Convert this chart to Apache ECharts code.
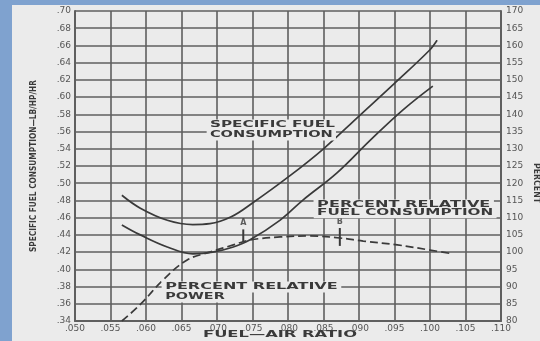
<!DOCTYPE html>
<html><head><meta charset="utf-8">
<script src="https://cdn.jsdelivr.net/npm/echarts@6/dist/echarts.min.js"></script>
<style>
html,body{margin:0;padding:0;background:#7fa2cf;width:540px;height:341px;overflow:hidden}
#chart{position:absolute;left:12px;top:5px;width:528px;height:336px;filter:blur(0.5px)}
</style></head><body><div id="chart"></div>
<script>
// ---- tick labels ----
const xTickLabels = ['.050','.055','.060','.065','.070','.075','.080','.085','.090','.095','.100','.105','.110'];
const leftTickLabels = ['.34','.36','.38','.40','.42','.44','.46','.48','.50','.52','.54','.56','.58','.60','.62','.64','.66','.68','.70'];
const rightTickLabels = ['80','85','90','95','100','105','110','115','120','125','130','135','140','145','150','155','160','165','170'];

// ---- series data ----
const sfcX = [0.0566,0.0592,0.0630,0.0666,0.0690,0.0720,0.0750,0.0800,0.0850,0.0900,0.0950,0.1000,0.1010];
const sfcY = [0.486,0.471,0.457,0.452,0.453,0.461,0.477,0.507,0.540,0.578,0.616,0.655,0.666];

const relFuelX = [0.0566,0.0592,0.0630,0.0666,0.0694,0.0723,0.0746,0.0789,0.0821,0.0869,0.0916,0.0962,0.1004];
const relFuelY = [107.9,105.0,101.5,99.5,100.0,101.5,103.5,109.3,115.1,123.0,132.5,141.3,148.2];

const relPowerX = [0.0566,0.0592,0.0624,0.0658,0.0690,0.0723,0.0746,0.0789,0.0831,0.0873,0.0906,0.0954,0.1000,0.1032];
const relPowerY = [80.0,84.8,91.9,97.7,100.0,102.1,103.5,104.4,104.7,104.1,103.2,102.1,100.6,99.5];

const markerNames = ['A','B'];
const markerX = [0.0737,0.0873];
const markerLetterY = [108.6,108.8];
const markerTop = [106.6,107.0];
const markerBottom = [102.9,101.8];

// ---- annotation text (data-space anchors) ----
const noteTexts = ['SPECIFIC FUEL','CONSUMPTION','PERCENT RELATIVE','FUEL CONSUMPTION','PERCENT RELATIVE','POWER'];
const noteAxis  = [0,0,1,1,1,1];
const noteFrom  = [0.0690,0.0690,0.0841,0.0841,0.0627,0.0627];
const noteTo    = [0.0866,0.0863,0.1085,0.1089,0.0870,0.0711];
const noteY     = [0.5676,0.556,113.7,111.4,89.9,87.0];

const PAPER = '#ebebeb';
const INK = '#3a3a3a';
const GRID = '#5f5f5f';

const zip = (xs, ys) => xs.map((x,i)=>[x, ys[i]]);

const chart = echarts.init(document.getElementById('chart'), null, {renderer:'canvas'});

const markerSeries = markerNames.map((n,i)=>({
  type:'line', yAxisIndex:1, showSymbol:false, silent:true,
  lineStyle:{color:INK, width:2},
  data:[[markerX[i], markerTop[i]],[markerX[i], markerBottom[i]]]
}));

const option = {
  backgroundColor: PAPER,
  animation:false,
  grid:{left:63, right:39, top:6, bottom:20},
  xAxis:{
    type:'value', min:0.05, max:0.11, interval:0.005,
    axisLine:{show:true, lineStyle:{color:GRID, width:2}},
    axisTick:{show:false},
    axisLabel:{color:'#555', fontSize:9, margin:3, fontFamily:'DejaVu Sans',
      formatter:v=>xTickLabels[Math.round((v-0.05)/0.005)] || ''},
    splitLine:{show:true, lineStyle:{color:GRID, width:1.6}}
  },
  yAxis:[{
    type:'value', position:'left', min:0.34, max:0.70, interval:0.02,
    axisLine:{show:true, lineStyle:{color:GRID, width:2}},
    axisTick:{show:false},
    axisLabel:{color:'#555', fontSize:9, margin:4, fontFamily:'DejaVu Sans',
      formatter:v=>leftTickLabels[Math.round((v-0.34)/0.02)] || ''},
    splitLine:{show:true, lineStyle:{color:GRID, width:1.6}}
  },{
    type:'value', position:'right', min:80, max:170, interval:5,
    axisLine:{show:true, lineStyle:{color:GRID, width:2}},
    axisTick:{show:false},
    axisLabel:{color:'#555', fontSize:9, margin:5, fontFamily:'DejaVu Sans',
      formatter:v=>rightTickLabels[Math.round((v-80)/5)] || ''},
    splitLine:{show:false}
  }],
  series:[
    {name:'Specific fuel consumption', type:'line', yAxisIndex:0, smooth:0.4, showSymbol:false,
      lineStyle:{color:INK, width:1.7}, data:zip(sfcX, sfcY)},
    {name:'Percent relative fuel consumption', type:'line', yAxisIndex:1, smooth:0.4, showSymbol:false,
      lineStyle:{color:INK, width:1.7}, data:zip(relFuelX, relFuelY)},
    {name:'Percent relative power', type:'line', yAxisIndex:1, smooth:0.4, showSymbol:false,
      lineStyle:{color:INK, width:1.7, type:[8,4]}, data:zip(relPowerX, relPowerY)},
    ...markerSeries,
    {type:'scatter', yAxisIndex:1, symbolSize:0, silent:true,
      label:{show:true, position:'inside', formatter:p=>p.name, color:INK, fontSize:8, fontWeight:'bold', fontFamily:'DejaVu Sans'},
      data:markerNames.map((n,i)=>({name:n, value:[markerX[i], markerLetterY[i]]}))}
  ]
};
chart.setOption(option);

// ---- stretched text (scanned typeface is very wide) ----
const ctx = document.createElement('canvas').getContext('2d');
function stretched(text, font, cx, cy, width, rotation, bg){
  ctx.font = font;
  const w = ctx.measureText(text).width;
  return {
    type:'text', x:cx, y:cy, rotation:rotation||0, scaleX: width / w, z:50,
    style:{text:text, font:font, fill:INK, textAlign:'center', textVerticalAlign:'middle',
      backgroundColor: bg || 'transparent', padding:[1,2]}
  };
}
const LABEL_FONT = 'bold 9px "DejaVu Sans"';
const graphics = noteTexts.map((t,i)=>{
  const f = {xAxisIndex:0, yAxisIndex:noteAxis[i]};
  const p0 = chart.convertToPixel(f, [noteFrom[i], noteY[i]]);
  const p1 = chart.convertToPixel(f, [noteTo[i], noteY[i]]);
  return stretched(t, LABEL_FONT, (p0[0]+p1[0])/2, p0[1], p1[0]-p0[0], 0, PAPER);
});
graphics.push(stretched('SPECIFIC FUEL CONSUMPTION\u2014LB/HP/HR', 'bold 8px "DejaVu Sans"', 22, 161, 172, Math.PI/2));
graphics.push(stretched('PERCENT', 'bold 8px "DejaVu Sans"', 524, 178, 40, -Math.PI/2));
graphics.push(stretched('FUEL\u2014AIR RATIO', 'bold 9px "DejaVu Sans"', 268, 330, 154, 0));
chart.setOption({graphic:graphics});
</script></body></html>
